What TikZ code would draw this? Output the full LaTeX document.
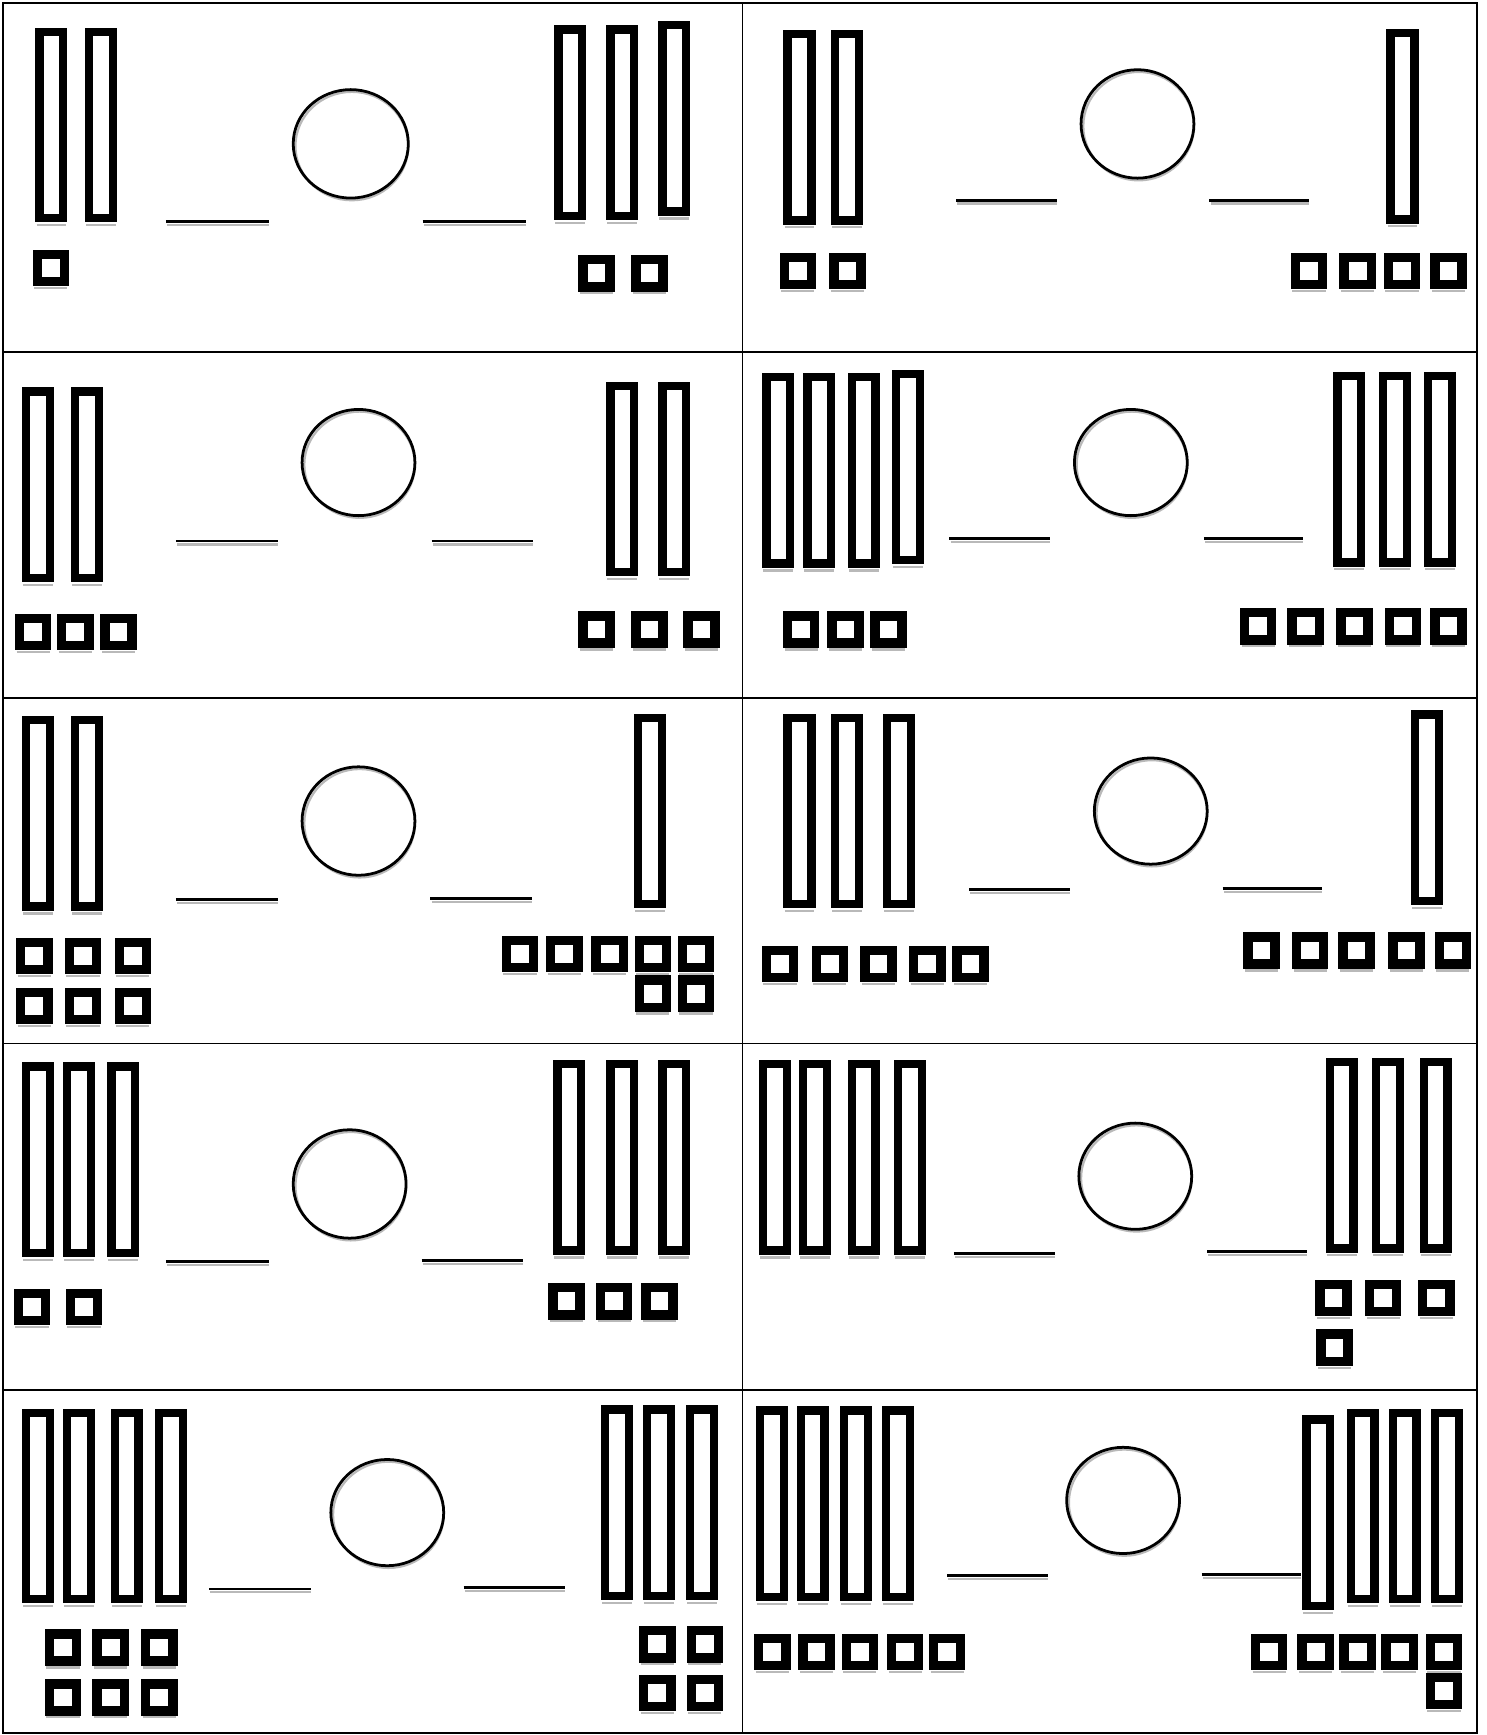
\documentclass[tikz,border=0pt]{standalone}
\usepackage{tikz}
\usetikzlibrary{calc}

\tikzset{
  frame line/.style={draw=black,line width=0.03cm},
  shade line/.style={draw=gray!55,line width=0.04cm},
  blank/.style={draw=black,line width=0.05cm},
  sign circle/.style={draw=black,line width=0.05cm},
  tenrod/.pic={
    \draw[shade line] (0,178.5) -- (27,178.5);
    \draw[draw=black,line width=0.15cm] (2.75,3.75) rectangle (24.25,172.25);
  },
  onecube/.pic={
    \draw[shade line] (1,34) -- (31,34);
    \draw[draw=black,line width=0.17cm] (3.75,3.75) rectangle (28.25,28.25);
  },
}

\begin{document}
\begin{tikzpicture}[x=0.02cm,y=-0.02cm]
  \useasboundingbox (0,0) rectangle (1343,1568);

  % frame
  \draw[frame line] (3,3) rectangle (1335,1566);
  \draw[frame line] (671,3) -- (671,1566);
  \foreach \y in {318,631,943,1256}
    \draw[frame line] (3,\y) -- (1335,\y);

  % panel 1
  \foreach \x in {33,78} \pic at (\x,25) {tenrod};
  \pic at (30,226) {onecube};
  \draw[shade line] (151,203) -- (243,203);
  \draw[blank] (150,200) -- (243,200);
  \draw[shade line] (318,132) ellipse [x radius=51, y radius=49];
  \draw[sign circle] (317,130) ellipse [x radius=52, y radius=49];
  \draw[shade line] (383,203) -- (475,203);
  \draw[blank] (382,200) -- (475,200);
  \foreach \x in {502,549} \pic at (\x,23) {tenrod};
  \pic at (596,19) {tenrod};
  \foreach \x in {523,571} \pic at (\x,231) {onecube};

  % panel 2
  \foreach \x in {709,752} \pic at (\x,27) {tenrod};
  \foreach \x in {705,750} \pic at (\x,229) {onecube};
  \draw[shade line] (865,184) -- (955,184);
  \draw[blank] (864,181) -- (955,181);
  \draw[shade line] (1029,114) ellipse [x radius=50, y radius=49];
  \draw[sign circle] (1028,112) ellipse [x radius=51, y radius=49];
  \draw[shade line] (1094,184) -- (1183,184);
  \draw[blank] (1093,181) -- (1183,181);
  \pic at (1254,26) {tenrod};
  \foreach \x in {1167,1211,1251,1293} \pic at (\x,229) {onecube};

  % panel 3
  \foreach \x in {21,65} \pic at (\x,350) {tenrod};
  \foreach \x in {14,52,91} \pic at (\x,555) {onecube};
  \draw[shade line] (160,492) -- (251,492);
  \draw[blank] (159,489) -- (251,489);
  \draw[shade line] (325,420) ellipse [x radius=50, y radius=48];
  \draw[sign circle] (324,418) ellipse [x radius=51, y radius=48];
  \draw[shade line] (391,492) -- (482,492);
  \draw[blank] (390,489) -- (482,489);
  \foreach \x in {549,596} \pic at (\x,345) {tenrod};
  \foreach \x in {523,571,618} \pic at (\x,553) {onecube};

  % panel 4
  \foreach \x in {690,727,767} \pic at (\x,337) {tenrod};
  \pic at (807,334) {tenrod};
  \foreach \x in {708,748,787} \pic at (\x,553) {onecube};
  \draw[shade line] (859,490) -- (949,490);
  \draw[blank] (858,487) -- (949,487);
  \draw[shade line] (1023,420) ellipse [x radius=50, y radius=48];
  \draw[sign circle] (1022,418) ellipse [x radius=51, y radius=48];
  \draw[shade line] (1089,490) -- (1178,490);
  \draw[blank] (1088,487) -- (1178,487);
  \foreach \x in {1206,1247,1288} \pic at (\x,336) {tenrod};
  \foreach \x in {1121,1164,1208,1252,1293} \pic at (\x,550) {onecube};

  % panel 5
  \foreach \x in {21,65} \pic at (\x,647) {tenrod};
  \foreach \x in {15,59,104} {
    \pic at (\x,848) {onecube};
    \pic at (\x,893) {onecube};
  }
  \draw[shade line] (160,816) -- (251,816);
  \draw[blank] (159,813) -- (251,813);
  \draw[shade line] (325,744) ellipse [x radius=50, y radius=49];
  \draw[sign circle] (324,742) ellipse [x radius=51, y radius=49];
  \draw[shade line] (390,815) -- (481,815);
  \draw[blank] (389,812) -- (481,812);
  \pic at (574,645) {tenrod};
  \foreach \x in {454,494,535,574,613} \pic at (\x,846) {onecube};
  \foreach \x in {574,613} \pic at (\x,882) {onecube};

  % panel 6
  \foreach \x in {709,752,799} \pic at (\x,645) {tenrod};
  \foreach \x in {689,734,778,822,861} \pic at (\x,855) {onecube};
  \draw[shade line] (877,807) -- (967,807);
  \draw[blank] (876,804) -- (967,804);
  \draw[shade line] (1041,735) ellipse [x radius=50, y radius=48];
  \draw[sign circle] (1040,733) ellipse [x radius=51, y radius=48];
  \draw[shade line] (1106,806) -- (1195,806);
  \draw[blank] (1105,803) -- (1195,803);
  \pic at (1276,642) {tenrod};
  \foreach \x in {1124,1168,1210,1255,1297} \pic at (\x,843) {onecube};

  % panel 7
  \foreach \x in {21,58,98} \pic at (\x,960) {tenrod};
  \foreach \x in {13,60} \pic at (\x,1165) {onecube};
  \draw[shade line] (151,1143) -- (243,1143);
  \draw[blank] (150,1140) -- (243,1140);
  \draw[shade line] (317,1072) ellipse [x radius=50, y radius=49];
  \draw[sign circle] (316,1070) ellipse [x radius=51, y radius=49];
  \draw[shade line] (382,1142) -- (473,1142);
  \draw[blank] (381,1139) -- (473,1139);
  \foreach \x in {501,549,596} \pic at (\x,958) {tenrod};
  \foreach \x in {496,539,580} \pic at (\x,1160) {onecube};

  % panel 8
  \foreach \x in {687,723,767,809} \pic at (\x,958) {tenrod};
  \draw[shade line] (863,1136) -- (953,1136);
  \draw[blank] (862,1133) -- (953,1133);
  \draw[shade line] (1027,1065) ellipse [x radius=50, y radius=48];
  \draw[sign circle] (1026,1063) ellipse [x radius=51, y radius=48];
  \draw[shade line] (1092,1134) -- (1181,1134);
  \draw[blank] (1091,1131) -- (1181,1131);
  \foreach \x in {1199,1241,1284} \pic at (\x,956) {tenrod};
  \foreach \x in {1189,1234,1282} \pic at (\x,1157) {onecube};
  \pic at (1190,1202) {onecube};

  % panel 9
  \foreach \x in {21,58,101,141} \pic at (\x,1273) {tenrod};
  \foreach \x in {41,84,128} {
    \pic at (\x,1473) {onecube};
    \pic at (\x,1518) {onecube};
  }
  \draw[shade line] (190,1439) -- (281,1439);
  \draw[blank] (189,1436) -- (281,1436);
  \draw[shade line] (351,1369) ellipse [x radius=50, y radius=48];
  \draw[sign circle] (350,1367) ellipse [x radius=51, y radius=48];
  \draw[shade line] (420,1438) -- (511,1438);
  \draw[blank] (419,1435) -- (511,1435);
  \foreach \x in {544,582,621} \pic at (\x,1270) {tenrod};
  \foreach \x in {578,621} {
    \pic at (\x,1470) {onecube};
    \pic at (\x,1514) {onecube};
  }

  % panel 10
  \foreach \x in {684,721,760,798} \pic at (\x,1271) {tenrod};
  \foreach \x in {682,722,761,802,840} \pic at (\x,1477) {onecube};
  \draw[shade line] (857,1427) -- (947,1427);
  \draw[blank] (856,1424) -- (947,1424);
  \draw[shade line] (1016,1358) ellipse [x radius=50, y radius=48];
  \draw[sign circle] (1015,1356) ellipse [x radius=51, y radius=48];
  \draw[shade line] (1087,1426) -- (1176,1426);
  \draw[blank] (1086,1423) -- (1176,1423);
  \pic at (1178,1279) {tenrod};
  \foreach \x in {1218,1256,1294} \pic at (\x,1273) {tenrod};
  \foreach \x in {1131,1173,1211,1249,1289} \pic at (\x,1477) {onecube};
  \pic at (1289,1512) {onecube};
\end{tikzpicture}
\end{document}
